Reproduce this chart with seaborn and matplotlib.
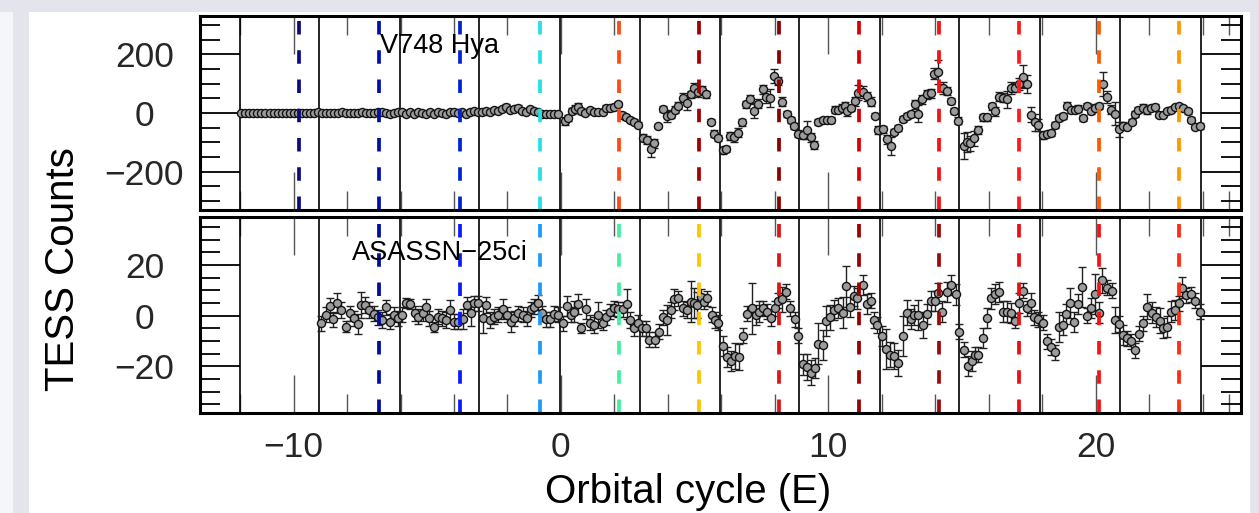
import matplotlib
matplotlib.use("Agg")
import matplotlib.pyplot as plt
from matplotlib.patches import Rectangle
from matplotlib.ticker import FixedLocator, MultipleLocator
import numpy as np
import pandas as pd
import seaborn as sns

# ---------------- data ----------------
# V748 Hya (top panel)
top_E = [
    -11.95, -11.8, -11.65, -11.5, -11.35, -11.2, -11.05, -10.9, -10.75, -10.6,
    -10.45, -10.3, -10.15, -10.0, -9.85, -9.7, -9.55, -9.4, -9.25, -9.1,
    -8.95, -8.8, -8.65, -8.5, -8.35, -8.2, -8.05, -7.9, -7.75, -7.6,
    -7.45, -7.3, -7.15, -7.0, -6.85, -6.7, -6.55, -6.4, -6.25, -6.1,
    -5.95, -5.8, -5.65, -5.5, -5.35, -5.2, -5.05, -4.9, -4.75, -4.6,
    -4.45, -4.3, -4.15, -4.0, -3.85, -3.7, -3.55, -3.4, -3.25, -3.1,
    -2.95, -2.8, -2.65, -2.5, -2.35, -2.2, -2.05, -1.9, -1.75, -1.6,
    -1.45, -1.3, -1.15, -1.0, -0.85, -0.7, -0.55, -0.4, -0.25, -0.1,
    0.15, 0.27, 0.40, 0.52, 0.65, 0.77, 0.90, 1.09, 1.24, 1.40,
    1.56, 1.68, 1.83, 1.98, 2.14, 2.27, 2.43, 2.58, 2.74, 2.89,
    3.08, 3.23, 3.37, 3.50, 3.64, 3.81, 3.96, 4.10, 4.27, 4.39,
    4.56, 4.70, 4.85, 4.98, 5.14, 5.29, 5.43, 5.60, 5.74, 5.89,
    6.05, 6.18, 6.33, 6.47, 6.64, 6.79, 6.92, 7.07, 7.22, 7.38,
    7.55, 7.67, 7.82, 7.98, 8.11, 8.28, 8.45, 8.60, 8.73, 8.88,
    9.07, 9.22, 9.34, 9.48, 9.63, 9.79, 9.94, 10.09, 10.25, 10.38,
    10.50, 10.63, 10.72, 10.84, 11.00, 11.13, 11.29, 11.44, 11.59, 11.75,
    11.88, 12.06, 12.19, 12.34, 12.46, 12.62, 12.79, 12.94, 13.08, 13.25,
    13.37, 13.50, 13.69, 13.84, 13.96, 14.12, 14.28, 14.43, 14.58, 14.72,
    14.87, 15.06, 15.18, 15.31, 15.47, 15.62, 15.78, 15.93, 16.12, 16.24,
    16.37, 16.53, 16.68, 16.83, 16.97, 17.12, 17.28, 17.43, 17.59, 17.74,
    17.86, 18.05, 18.20, 18.34, 18.49, 18.65, 18.77, 18.92, 19.07, 19.24,
    19.36, 19.53, 19.67, 19.82, 19.99, 20.13, 20.27, 20.42, 20.57, 20.71,
    20.86, 21.04, 21.19, 21.36, 21.48, 21.60, 21.79, 21.94, 22.07, 22.23,
    22.39, 22.54, 22.67, 22.83, 22.98, 23.13, 23.27, 23.44, 23.56, 23.73, 23.89,
]
top_counts = [
    0, 1, 0, -1, 0, 1, 0, 0, -1, 1,
    0, 0, 1, -1, 0, 1, 0, -1, 0, 2,
    1, 0, -1, 0, 1, 2, 0, -1, 1, 0,
    2, 1, -1, 0, 2, 3, 1, -2, 1, 3,
    5, -3, 2, -4, 4, 1, -5, 3, -2, 4,
    0, -3, 2, 5, 1, 3, -2, 4, 6, 3,
    4, 8, 3, 11, 6, 14, 21, 9, 12, 18,
    6, 3, 14, 8, 2, -2, -3, -4, -3, -4,
    -27, -17, 6, 14, 21, 6, 0, 9, 3, 3,
    3, 17, 17, 20, 29, -6, -15, -23, -29, -40,
    -84, -92, -121, -103, -44, 14, -9, -6, 11, 25,
    52, 34, 63, 86, 71, 78, 63, -29, -71, -86,
    -127, -123, -78, -83, -67, -32, 29, 46, 8, 32,
    80, 55, 52, 126, 109, 38, -2, -23, -44, -71,
    -75, -58, -83, -109, -32, -23, -23, -25, 11, 11,
    17, 23, 6, 17, 40, 69, 71, 57, 38, -9,
    -58, -55, -90, -113, -63, -52, -21, -9, -2, 29,
    -2, 46, 63, 67, 134, 140, 86, 75, 40, 6,
    -26, -113, -98, -103, -86, -58, -14, -14, 23, 6,
    55, 52, 46, 86, 86, 98, 124, 98, -6, -32,
    -40, -75, -71, -67, -40, -17, -9, 25, 11, 9,
    14, -17, 23, 6, 17, 23, 98, 55, 11, -2,
    -55, -44, -46, -29, -2, 11, 17, 9, 17, 20,
    -6, -6, 6, 11, 20, 23, 17, 6, -23, -46, -44,
]
top_err = [
    4, 4, 4, 4, 4, 4, 4, 4, 4, 4,
    4, 4, 4, 4, 4, 4, 4, 4, 4, 4,
    4, 4, 4, 4, 4, 4, 4, 4, 4, 4,
    4, 4, 4, 4, 4, 4, 4, 4, 4, 4,
    4, 4, 4, 4, 4, 4, 4, 4, 4, 4,
    4, 4, 4, 4, 4, 4, 4, 4, 4, 4,
    4, 5, 4, 6, 4, 6, 8, 5, 6, 10,
    5, 4, 6, 5, 4, 4, 4, 4, 4, 4,
    15, 10, 10, 12, 12, 10, 8, 8, 8, 8,
    8, 10, 10, 10, 10, 8, 8, 8, 8, 8,
    12, 15, 30, 15, 8, 10, 20, 12, 12, 12,
    15, 25, 12, 15, 15, 15, 12, 10, 12, 10,
    12, 10, 15, 15, 15, 12, 12, 15, 25, 15,
    15, 20, 30, 25, 15, 15, 10, 10, 10, 12,
    15, 30, 15, 15, 10, 10, 10, 10, 12, 10,
    12, 15, 15, 10, 15, 25, 20, 15, 15, 8,
    15, 12, 15, 30, 10, 10, 10, 10, 10, 15,
    30, 15, 15, 15, 20, 40, 20, 15, 10, 10,
    12, 45, 35, 25, 25, 15, 12, 12, 12, 15,
    15, 15, 30, 20, 15, 20, 40, 30, 25, 30,
    20, 12, 10, 10, 10, 10, 10, 12, 12, 10,
    12, 10, 10, 10, 12, 10, 40, 20, 15, 40,
    25, 15, 10, 10, 10, 10, 12, 12, 10, 10,
    8, 8, 8, 8, 8, 8, 8, 8, 8, 10, 10,
]

# ASASSN-25ci (bottom panel)
bot_E = [
    -8.96, -8.80, -8.65, -8.52, -8.37, -8.21, -8.05, -7.90, -7.75, -7.59,
    -7.46, -7.31, -7.18, -7.00, -6.84, -6.71, -6.55, -6.40, -6.25, -6.09,
    -5.96, -5.80, -5.65, -5.46, -5.34, -5.17, -5.05, -4.93, -4.75, -4.59,
    -4.43, -4.28, -4.13, -4.00, -3.84, -3.68, -3.53, -3.38, -3.26, -3.09,
    -2.93, -2.81, -2.66, -2.50, -2.35, -2.18, -2.03, -1.88, -1.76, -1.60,
    -1.43, -1.28, -1.13, -1.01, -0.85, -0.72, -0.56, -0.41, -0.26, -0.10,
    0.09, 0.21, 0.36, 0.49, 0.65, 0.77, 0.94, 1.09, 1.24, 1.40,
    1.56, 1.68, 1.83, 1.98, 2.14, 2.31, 2.46, 2.58, 2.73, 2.89,
    3.02, 3.18, 3.30, 3.52, 3.68, 3.81, 3.96, 4.10, 4.23, 4.39,
    4.56, 4.70, 4.85, 4.98, 5.10, 5.23, 5.35, 5.48, 5.64, 5.76,
    5.89, 6.07, 6.20, 6.35, 6.51, 6.66, 6.80, 6.97, 7.14, 7.30,
    7.42, 7.57, 7.70, 7.85, 8.01, 8.13, 8.26, 8.42, 8.57, 8.76,
    8.88, 9.04, 9.21, 9.36, 9.50, 9.63, 9.79, 9.92, 10.07, 10.22,
    10.38, 10.57, 10.67, 10.82, 10.97, 11.09, 11.29, 11.44, 11.59, 11.71,
    11.84, 12.00, 12.16, 12.31, 12.46, 12.62, 12.81, 12.94, 13.09, 13.21,
    13.37, 13.54, 13.71, 13.84, 14.00, 14.12, 14.25, 14.43, 14.60, 14.78,
    14.91, 15.06, 15.21, 15.37, 15.49, 15.62, 15.78, 15.93, 16.09, 16.24,
    16.40, 16.53, 16.68, 16.83, 16.99, 17.15, 17.28, 17.43, 17.58, 17.70,
    17.86, 18.03, 18.18, 18.34, 18.49, 18.65, 18.77, 18.90, 19.05, 19.20,
    19.36, 19.48, 19.67, 19.82, 19.96, 20.11, 20.24, 20.42, 20.61, 20.73,
    20.86, 21.02, 21.17, 21.32, 21.48, 21.64, 21.79, 21.94, 22.10, 22.26,
    22.42, 22.54, 22.67, 22.82, 22.98, 23.11, 23.24, 23.39, 23.56, 23.73, 23.89,
]
bot_counts = [
    -3.0, 0.3, 3.9, -1.4, 5.1, 2.2, -4.3, 0.9, -1.0, -3.3,
    4.2, 4.2, 2.2, 0.7, -0.6, -1.7, 3.3, -2.4, 0.3, -1.0,
    0.3, 4.9, 4.6, 0.9, -0.4, 0.9, 3.5, -1.0, -4.6, -0.4,
    -1.0, -1.7, 2.2, -2.4, -2.4, -1.4, 4.2, 0.9, 4.9, 4.9,
    -1.0, 4.2, -1.7, -0.4, 0.3, 2.5, 0.3, -2.4, -1.0, 0.9,
    0.3, -1.0, 2.5, 3.5, 5.1, 0.9, -1.4, -1.4, 0.7, 0.3,
    -3.0, 3.7, 0.3, 1.6, 4.7, -5.0, 2.5, -2.8, -3.7, 0.3,
    -2.8, -0.6, 1.6, 2.9, 2.5, 2.5, 4.6, -1.7, -5.0, -2.8,
    -5.0, -5.0, -9.5, -9.5, -6.3, -0.6, -1.7, 2.2, 6.4, 6.8,
    2.9, 2.2, 5.5, 4.9, 4.2, 7.5, 5.5, 6.8, 0.3, -1.7,
    -2.8, -11.9, -16.3, -18.0, -16.0, -16.3, -8.0, 0.7, 2.9, 0.3,
    1.6, 2.9, 1.6, -1.0, 2.9, 5.9, 6.4, 9.4, 2.9, -1.4,
    -8.0, -19.3, -20.3, -22.6, -20.6, -11.1, -11.5, -2.0, -0.6, 2.2,
    2.9, 1.2, 11.6, 3.5, 7.7, 6.8, 12.0, 4.6, 5.9, -1.7,
    -3.7, -8.0, -13.2, -15.4, -16.0, -18.7, -8.0, 1.2, -1.4, 0.3,
    0.3, -3.7, 0.7, 5.9, 5.9, 8.8, 1.6, 9.2, 12.0, 8.4,
    -6.3, -13.5, -20.0, -18.0, -15.4, -15.4, -8.9, -1.0, 6.8, 8.5,
    9.4, 1.6, 1.6, 0.9, -2.0, 4.9, 9.8, 2.9, 4.9, -0.6,
    -1.4, -2.8, -10.2, -12.4, -14.5, -4.6, -3.7, 0.7, 4.9, -2.4,
    4.6, 11.4, -0.1, 2.9, 8.5, 1.2, 14.0, 11.1, 9.8, -1.7,
    -3.3, -7.6, -8.9, -10.2, -13.7, -7.2, -3.0, 3.5, 1.2, -0.6,
    -2.0, -5.0, -4.3, 1.6, 2.2, 4.9, 11.1, 8.1, 8.5, 5.9, 1.6,
]
bot_err = [
    3, 3, 3, 3, 4, 3, 2, 3, 3, 4,
    5, 3, 3, 3, 3, 3, 3, 3, 3, 3,
    3, 2, 2, 3, 3, 3, 3, 3, 2, 3,
    3, 3, 4, 3, 3, 4, 3, 5, 3, 3,
    6, 3, 3, 3, 3, 4, 3, 4, 3, 3,
    3, 3, 3, 3, 3, 3, 3, 3, 3, 3,
    3, 4, 3, 4, 4, 2, 4, 3, 3, 5,
    3, 3, 3, 3, 3, 3, 6, 3, 3, 3,
    3, 3, 3, 3, 3, 3, 6, 3, 4, 3,
    3, 3, 8, 6, 5, 3, 3, 3, 3, 3,
    3, 4, 4, 4, 5, 5, 3, 3, 10, 4,
    4, 3, 3, 3, 3, 3, 5, 3, 3, 3,
    3, 4, 5, 5, 4, 8, 6, 6, 5, 4,
    4, 6, 8, 4, 4, 4, 4, 4, 3, 3,
    3, 4, 8, 5, 5, 5, 8, 5, 4, 4,
    6, 5, 4, 4, 4, 4, 4, 4, 4, 4,
    3, 3, 4, 4, 3, 3, 4, 4, 4, 4,
    4, 4, 4, 4, 3, 4, 3, 3, 4, 3,
    3, 3, 3, 3, 3, 6, 4, 4, 6, 4,
    4, 8, 3, 4, 8, 4, 5, 3, 3, 5,
    3, 4, 3, 3, 3, 3, 3, 5, 4, 4,
    5, 4, 4, 4, 4, 3, 4, 3, 3, 3, 3,
]

# cycle boundaries (solid black) and dashed markers
cycle_E = [-12.02, -9.03, -6.03, -3.05, -0.05, 2.95, 5.95, 8.92, 11.95,
           14.91, 17.92, 20.90, 23.95]
dash_E_top = [-9.78, -6.79, -3.79, -0.79, 2.18, 5.16, 8.15, 11.16, 14.15,
              17.14, 20.14, 23.13]
dash_col_top = ['#0c0c82', '#0010a8', '#0024d6', '#22e2e8', '#ff4a12',
                '#a00000', '#8c0000', '#d80000', '#f41212', '#ff1a1a',
                '#ff5a00', '#ff9800']
dash_E_bot = [-6.79, -3.79, -0.79, 2.18, 5.16, 8.15, 11.16, 14.15, 17.14,
              20.14, 23.13]
dash_col_bot = ['#000c9c', '#0a1aff', '#1a9aff', '#42f0a0', '#ffc400',
                '#dd1515', '#990000', '#9a0a0a', '#e81010', '#ff1010',
                '#ff2c10']

names = ['V748 Hya', 'ASASSN\u221225ci']
xlabel = 'Orbital cycle (E)'
ylabel = 'TESS Counts'
xmajor = [-10, 0, 10, 20]
xminor = [-12, -8, -6, -4, -2, 2, 4, 6, 8, 12, 14, 16, 18, 22, 24, 25]

# ---------------- style ----------------
sns.set_style('white')
plt.rcParams['font.family'] = ['Liberation Sans', 'DejaVu Sans']
plt.rcParams['axes.unicode_minus'] = True

W, H = 1259, 513
fig = plt.figure(figsize=(W / 100, H / 100), dpi=100, facecolor='#e3e4ec')
fig.patches.append(Rectangle((0, 0), 13 / W, (H - 12) / H, transform=fig.transFigure,
                             facecolor='#f5f6f9', edgecolor='none', zorder=-2))
fig.patches.append(Rectangle((29 / W, 0), (1250 - 29) / W, (H - 12) / H,
                             transform=fig.transFigure, facecolor='white',
                             edgecolor='none', zorder=-1))

ax1 = fig.add_axes([200 / W, 1 - 210 / H, 1041 / W, 194 / H])
ax2 = fig.add_axes([200 / W, 1 - 413 / H, 1041 / W, 196 / H])

dfs = [pd.DataFrame({'E': top_E, 'counts': top_counts, 'err': top_err}),
       pd.DataFrame({'E': bot_E, 'counts': bot_counts, 'err': bot_err})]
dashes = [(dash_E_top, dash_col_top), (dash_E_bot, dash_col_bot)]
ylims = [(-330, 330), (-38.5, 39)]
ymaj = [[-200, 0, 200], [-20, 0, 20]]
ymin = [50, 5]
title_y = [0.843, 0.815]

for i, ax in enumerate([ax1, ax2]):
    df = dfs[i]
    ax.set_facecolor('white')
    for xe in cycle_E:
        ax.axvline(xe, color='black', lw=1.2, zorder=1)
    ax.errorbar(df['E'], df['counts'], yerr=df['err'], fmt='none',
                ecolor='#222222', elinewidth=1.0, capsize=2.8, capthick=1.0,
                zorder=3)
    sns.scatterplot(data=df, x='E', y='counts', ax=ax, s=34, color='#9c9c9c',
                    edgecolor='#141414', linewidth=1.0, zorder=4, legend=False)
    for xe, c in zip(*dashes[i]):
        ax.axvline(xe, color=c, lw=2.7, dashes=(3.6, 4.2), zorder=5)
    ax.set_xlim(-13.5, 25.44)
    ax.set_ylim(*ylims[i])
    ax.set_xlabel('')
    ax.set_ylabel('')
    ax.xaxis.set_major_locator(FixedLocator(xmajor))
    ax.xaxis.set_minor_locator(FixedLocator(xminor))
    ax.set_yticks(ymaj[i])
    ax.yaxis.set_minor_locator(MultipleLocator(ymin[i]))
    ax.tick_params(axis='x', which='both', direction='in', top=True, bottom=True,
                   color='#555555', width=1.0, labelsize=25.5, pad=13)
    ax.tick_params(axis='x', which='major', length=27.5)
    ax.tick_params(axis='x', which='minor', length=13.7)
    ax.tick_params(axis='y', which='both', direction='in', left=True, right=True,
                   color='black', width=1.3, labelsize=25.5, pad=40)
    ax.tick_params(axis='y', which='major', length=28.8)
    ax.tick_params(axis='y', which='minor', length=14.4)
    for lab in ax.get_yticklabels():
        lab.set_ha('center')
    for sp in ax.spines.values():
        sp.set_visible(True)
        sp.set_color('black')
        sp.set_linewidth(2.2)
        sp.set_zorder(6)
    ax.text(0.2305, title_y[i], names[i], transform=ax.transAxes, ha='center',
            va='center', fontsize=19.5, color='black', zorder=7)

ax1.tick_params(axis='x', labelbottom=False)

fig.text(63.5 / W, 1 - 269 / H, ylabel, rotation=90, ha='center', va='center',
         fontsize=29, color='black')
fig.text(688 / W, 1 - 503 / H, xlabel, ha='center', va='baseline',
         fontsize=29, color='black')

fig.savefig('out.png', dpi=100, facecolor=fig.get_facecolor())
